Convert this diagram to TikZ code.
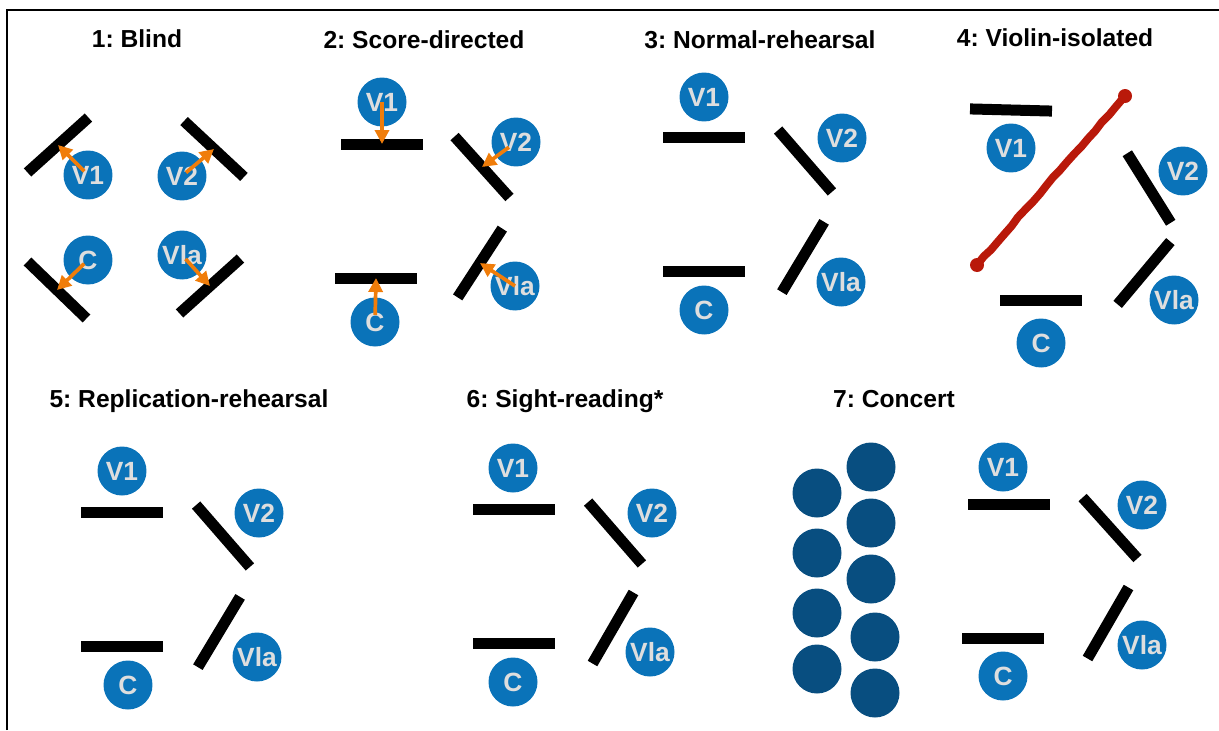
\documentclass[tikz,border=0pt]{standalone}
\usepackage{fontspec}
\setmainfont{Liberation Sans}
\usepackage{tikz}
\usetikzlibrary{arrows.meta, decorations.pathmorphing}
\frenchspacing
\definecolor{musblue}{RGB}{10,115,185}
\definecolor{crowdblue}{RGB}{8,78,128}
\definecolor{cueorange}{RGB}{240,125,10}
\definecolor{wallred}{RGB}{185,25,10}
\definecolor{labelgray}{RGB}{222,222,222}
\tikzset{
	title/.style={anchor=base, font=\bfseries\fontsize{14}{16}\selectfont},
	player/.style={
			shape=circle,
			fill=musblue,
			text=labelgray,
			minimum size=0.98cm,
			inner sep=0pt,
			font=\bfseries\fontsize{15}{17}\selectfont
		},
	listener/.style={shape=circle, fill=crowdblue, minimum size=0.98cm, inner sep=0pt}
}

\begin{document}
\begin{tikzpicture}[x=0.02cm, y=-0.02cm]

              \tikzset{
                stand/.style={
                    shape=rectangle,
                    fill=black,
                    minimum width=1.64cm,
                    minimum height=0.22cm,
                    inner sep=0pt
                  },
                cue/.style={
                    draw=cueorange,
                    line width=2.1pt,
                    -{Triangle[length=0.28cm,width=0.28cm]}
                  }
              }
              \useasboundingbox (0,0) rectangle (1219,730);
              \draw[line width=1.4pt] (7,730) -- (7,10) -- (1219,10);

              % 1: Blind
              \node[title] (t1) at (137,47) {1: Blind};
              \node[stand, rotate=42] (s1a) at (58,145) {};
              \node[stand, rotate=-43] (s1b) at (214,149) {};
              \node[stand, rotate=-44] (s1c) at (57,290) {};
              \node[stand, rotate=42] (s1d) at (210,286) {};
              \node[player] (p1a) at (88,175) {V1};
              \node[player] (p1b) at (182,176) {V2};
              \node[player] (p1c) at (88,260) {C};
              \node[player] (p1d) at (182,255) {Vla};
              \draw[cue, shorten <=3pt] (p1a.center) -- (s1a.center);
              \draw[cue, shorten <=3pt] (p1b.center) -- (s1b.center);
              \draw[cue, shorten <=3pt] (p1c.center) -- (s1c.center);
              \draw[cue, shorten <=3pt] (p1d.center) -- (s1d.center);

              % 2: Score-directed
              \node[title] (t2) at (424,48) {2: Score-directed};
              \node[stand] (s2a) at (382,144) {};
              \node[stand, rotate=-48] (s2b) at (482,167) {};
              \node[stand, rotate=57] (s2d) at (480,263) {};
              \node[stand] (s2c) at (376,278) {};
              \node[player] (p2a) at (382,102) {V1};
              \node[player] (p2b) at (516,142) {V2};
              \node[player] (p2d) at (515,286) {Vla};
              \node[player] (p2c) at (375,322) {C};
              \draw[cue] (p2a.center) -- (s2a.center);
              \draw[cue, shorten <=5pt] (p2b.center) -- (s2b.center);
              \draw[cue] (p2d.center) -- (s2d.center);
              \draw[cue, shorten <=4pt] (p2c.center) -- (s2c.center);

              % 3: Normal-rehearsal
              \node[title] (t3) at (760,48) {3: Normal-rehearsal};
              \node[stand] (s3a) at (704,137) {};
              \node[stand, rotate=-49] (s3b) at (805,161) {};
              \node[stand, rotate=59] (s3d) at (803,257) {};
              \node[stand] (s3c) at (704,271) {};
              \node[player] (p3a) at (704,97) {V1};
              \node[player] (p3b) at (842,138) {V2};
              \node[player] (p3d) at (841,282) {Vla};
              \node[player] (p3c) at (704,310) {C};

              % 4: Violin-isolated
              \node[title] (t4) at (1055,46) {4: Violin-isolated};
              \node[stand, rotate=-1.5] (s4a) at (1011,110) {};
              \node[stand, rotate=-58] (s4b) at (1149,188) {};
              \node[stand, rotate=50] (s4d) at (1144,273) {};
              \node[stand] (s4c) at (1041,300) {};
              \node[player] (p4a) at (1011,148) {V1};
              \node[player] (p4b) at (1183,171) {V2};
              \node[player] (p4d) at (1174,300) {Vla};
              \node[player] (p4c) at (1041,343) {C};
              \coordinate (w1) at (977,265);
              \coordinate (w2) at (1125,96);
              \draw[wallred, line width=4.5pt, line cap=round,
                decorate, decoration={random steps, segment length=6pt, amplitude=0.4pt}]
                (w1) -- (w2);
              \fill[wallred] (w1) circle (7);
              \fill[wallred] (w2) circle (7);

              % 5: Replication-rehearsal
              \node[title] (t5) at (189,407) {5: Replication-rehearsal};
              \node[stand] (s5a) at (122,512) {};
              \node[stand, rotate=-49] (s5b) at (223,536) {};
              \node[stand, rotate=59] (s5d) at (219,632) {};
              \node[stand] (s5c) at (122,646) {};
              \node[player] (p5a) at (122,471) {V1};
              \node[player] (p5b) at (259,513) {V2};
              \node[player] (p5d) at (257,657) {Vla};
              \node[player] (p5c) at (128,685) {C};

              % 6: Sight-reading*
              \node[title] (t6) at (565,407) {6: Sight-reading*};
              \node[stand] (s6a) at (514,509) {};
              \node[stand, rotate=-49] (s6b) at (615,533) {};
              \node[stand, rotate=60] (s6d) at (613,628) {};
              \node[stand] (s6c) at (514,643) {};
              \node[player] (p6a) at (513,468) {V1};
              \node[player] (p6b) at (652,513) {V2};
              \node[player] (p6d) at (650,652) {Vla};
              \node[player] (p6c) at (513,682) {C};

              % 7: Concert
              \node[title] (t7) at (894,407) {7: Concert};
              \node[listener] (a1) at (817,493) {};
              \node[listener] (a2) at (817,553) {};
              \node[listener] (a3) at (817,613) {};
              \node[listener] (a4) at (817,669) {};
              \node[listener] (a5) at (871,467) {};
              \node[listener] (a6) at (871,523) {};
              \node[listener] (a7) at (871,579) {};
              \node[listener] (a8) at (875,637) {};
              \node[listener] (a9) at (875,693) {};
              \node[stand] (s7a) at (1009,504) {};
              \node[stand, rotate=-48] (s7b) at (1110,528) {};
              \node[stand, rotate=60] (s7d) at (1108,623) {};
              \node[stand] (s7c) at (1003,638) {};
              \node[player] (p7a) at (1003,467) {V1};
              \node[player] (p7b) at (1142,505) {V2};
              \node[player] (p7d) at (1142,645) {Vla};
              \node[player] (p7c) at (1003,676) {C};

            \end{tikzpicture}
\end{document}
